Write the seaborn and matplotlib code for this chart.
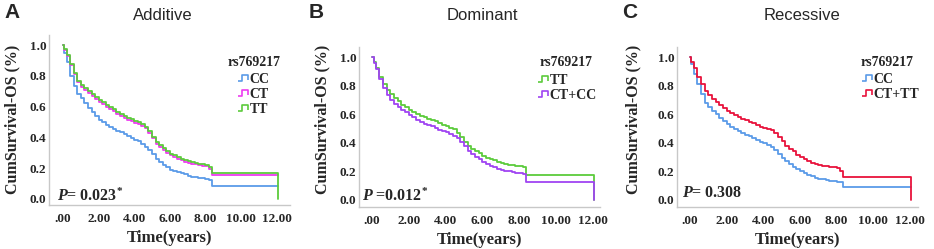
import numpy as np
import pandas as pd
import matplotlib
matplotlib.use("Agg")
import matplotlib.pyplot as plt
from matplotlib.lines import Line2D
from matplotlib.path import Path
import seaborn as sns

# ---------------- data ----------------
times = [0.0, 0.08, 0.2, 0.4, 0.6, 0.8, 1.0, 1.2, 1.4, 1.6, 1.8, 2.0, 2.2, 2.4, 2.6, 2.8,
         3.0, 3.2, 3.4, 3.6, 3.8, 4.0, 4.2, 4.4, 4.6, 4.8, 5.0, 5.2, 5.4, 5.6, 5.8,
         6.0, 6.2, 6.4, 6.6, 6.8, 7.0, 7.2, 7.4, 7.6, 7.8, 8.0, 8.2, 8.35, 12.05]

add_cc = [1.0, 0.95, 0.89, 0.80, 0.735, 0.685, 0.655, 0.625, 0.593, 0.565, 0.537, 0.512, 0.497,
          0.482, 0.467, 0.455, 0.443, 0.432, 0.42, 0.409, 0.398, 0.386, 0.374, 0.36, 0.34,
          0.315, 0.29, 0.262, 0.24, 0.222, 0.205, 0.19, 0.182, 0.174, 0.167, 0.16, 0.152,
          0.146, 0.142, 0.138, 0.134, 0.13, 0.125, 0.082, 0.082]
add_ct = [1.0, 0.97, 0.93, 0.868, 0.812, 0.757, 0.728, 0.708, 0.688, 0.67, 0.65, 0.63, 0.615,
          0.60, 0.585, 0.57, 0.553, 0.54, 0.528, 0.516, 0.506, 0.496, 0.487, 0.476, 0.458,
          0.428, 0.393, 0.358, 0.336, 0.318, 0.30, 0.283, 0.272, 0.26, 0.25, 0.242, 0.235,
          0.23, 0.225, 0.22, 0.216, 0.212, 0.197, 0.158, 0.158]
add_tt = [1.0, 0.972, 0.935, 0.875, 0.82, 0.765, 0.738, 0.72, 0.70, 0.683, 0.663, 0.642, 0.627,
          0.612, 0.597, 0.582, 0.565, 0.552, 0.54, 0.528, 0.518, 0.508, 0.499, 0.488, 0.47,
          0.44, 0.405, 0.37, 0.348, 0.33, 0.312, 0.295, 0.283, 0.27, 0.26, 0.252, 0.245,
          0.24, 0.235, 0.23, 0.226, 0.222, 0.205, 0.168, 0.0]

dom_tt = [1.0, 0.965, 0.92, 0.858, 0.81, 0.77, 0.742, 0.714, 0.69, 0.667, 0.648, 0.63, 0.616,
          0.603, 0.59, 0.578, 0.569, 0.561, 0.551, 0.539, 0.525, 0.515, 0.506, 0.495, 0.472,
          0.44, 0.408, 0.38, 0.36, 0.344, 0.328, 0.307, 0.296, 0.286, 0.277, 0.267, 0.258,
          0.253, 0.248, 0.244, 0.239, 0.235, 0.232, 0.174, 0.0]
dom_ctcc = [1.0, 0.96, 0.915, 0.845, 0.785, 0.735, 0.70, 0.672, 0.652, 0.631, 0.612, 0.594, 0.577,
            0.56, 0.544, 0.531, 0.522, 0.514, 0.503, 0.493, 0.483, 0.473, 0.462, 0.45, 0.437,
            0.408, 0.375, 0.342, 0.32, 0.303, 0.288, 0.268, 0.255, 0.24, 0.229, 0.219, 0.21,
            0.205, 0.20, 0.196, 0.192, 0.188, 0.185, 0.128, 0.0]

rec_cc = [1.0, 0.95, 0.88, 0.81, 0.74, 0.68, 0.652, 0.625, 0.598, 0.573, 0.55, 0.528, 0.51,
          0.495, 0.481, 0.468, 0.457, 0.446, 0.435, 0.422, 0.409, 0.397, 0.385, 0.37, 0.35,
          0.322, 0.295, 0.273, 0.253, 0.233, 0.216, 0.204, 0.19, 0.176, 0.166, 0.157, 0.15,
          0.146, 0.141, 0.136, 0.131, 0.127, 0.125, 0.093, 0.093]
rec_cttt = [1.0, 0.965, 0.925, 0.862, 0.81, 0.765, 0.733, 0.705, 0.683, 0.665, 0.645, 0.625, 0.605,
            0.592, 0.578, 0.566, 0.556, 0.546, 0.535, 0.524, 0.513, 0.505, 0.497, 0.487, 0.467,
            0.44, 0.41, 0.38, 0.36, 0.343, 0.317, 0.298, 0.285, 0.272, 0.262, 0.252, 0.245,
            0.24, 0.235, 0.232, 0.228, 0.222, 0.205, 0.163, 0.0]

panel_titles = ["Additive", "Dominant", "Recessive"]
panel_letters = ["A", "B", "C"]
p_texts = [r"$\mathit{P}$= 0.023$^{*}$", r"$\mathit{P}$ =0.012$^{*}$", r"$\mathit{P}$= 0.308"]
legend_title = "rs769217"
xtick_vals = [0, 2, 4, 6, 8, 10, 12]
xtick_labels = [".00", "2.00", "4.00", "6.00", "8.00", "10.00", "12.00"]
ytick_vals = [0.0, 0.2, 0.4, 0.6, 0.8, 1.0]

panels = [
    [("CC", add_cc, "#5b9be8"), ("CT", add_ct, "#ee3cf0"), ("TT", add_tt, "#5ccb3c")],
    [("TT", dom_tt, "#5ccb3c"), ("CT+CC", dom_ctcc, "#a044f2")],
    [("CC", rec_cc, "#5b9be8"), ("CT+TT", rec_cttt, "#e8123c")],
]

# ---------------- style ----------------
sns.set_theme(style="white")
plt.rcParams["font.family"] = ["Liberation Serif", "DejaVu Serif"]
plt.rcParams["mathtext.fontset"] = "custom"
plt.rcParams["mathtext.rm"] = "Liberation Serif:bold"
plt.rcParams["mathtext.it"] = "Liberation Serif:italic:bold"
plt.rcParams["mathtext.bf"] = "Liberation Serif:bold"

W, H = 934, 249
fig = plt.figure(figsize=(W / 100, H / 100), dpi=100)

# axes boxes in pixels: left, top, right, bottom ; xlim ; ylim
boxes = [
    (49, 35, 290, 205, (-0.79, 12.75), (-0.039, 1.065)),
    (359, 47, 600, 207, (-0.71, 12.4), (-0.049, 1.07)),
    (677, 47, 918, 207, (-0.71, 12.44), (-0.049, 1.07)),
]
title_x = [163, 482, 802]
letter_x = [4, 309, 622]
ylabel_x = [12, 322, 633]
leg_title_xy = [(254, 62), (566, 62), (887, 62)]
leg_items_xy = [(238, 73), (538, 74), (862, 73)]
p_xy = [(57, 201), (362, 201), (682, 197)]

step_marker = Path([(-1.0, -0.5), (-0.3, -0.5), (-0.3, 0.5), (0.6, 0.5), (0.6, -0.3)],
                   [Path.MOVETO, Path.LINETO, Path.LINETO, Path.LINETO, Path.LINETO])

for i, (l, t, r, b, xl, yl) in enumerate(boxes):
    ax = fig.add_axes([l / W, (H - b) / H, (r - l) / W, (b - t) / H])
    rows = []
    for name, vals, col in panels[i]:
        for tt, v in zip(times, vals):
            rows.append({"time": tt, "surv": v, "group": name})
    df = pd.DataFrame(rows)
    pal = {name: col for name, vals, col in panels[i]}
    sns.lineplot(data=df, x="time", y="surv", hue="group", palette=pal,
                 estimator=None, sort=False, drawstyle="steps-post",
                 linewidth=1.3, legend=False, ax=ax)
    ax.set_xlim(*xl)
    ax.set_ylim(*yl)
    ax.set_xticks(xtick_vals)
    ax.set_xticklabels(xtick_labels, fontsize=9.5, fontweight="bold")
    ax.set_yticks(ytick_vals)
    ax.set_yticklabels([f"{v:.1f}" for v in ytick_vals], fontsize=9.5, fontweight="bold")
    ax.tick_params(axis="both", length=0, pad=2)
    ax.tick_params(axis="x", pad=6)
    ax.set_xlabel("Time(years)", fontsize=12, fontweight="bold", labelpad=3)
    ax.set_ylabel("")
    for s in ["top", "right"]:
        ax.spines[s].set_visible(False)
    for s in ["left", "bottom"]:
        ax.spines[s].set_color("#c8c8c8")
        ax.spines[s].set_linewidth(1.0)

    handles = [Line2D([], [], linestyle="none", marker=step_marker, markersize=9,
                      markerfacecolor="none", markeredgecolor=col, markeredgewidth=1.2,
                      label=name) for name, vals, col in panels[i]]
    lx, ly = leg_items_xy[i]
    ax.legend(handles=handles, loc="upper left",
              bbox_to_anchor=(lx / W, 1 - ly / H), bbox_transform=fig.transFigure,
              frameon=False, prop={"weight": "bold", "size": 10}, handlelength=0.8,
              handletextpad=0.05, labelspacing=0.15, borderpad=0.0, borderaxespad=0.0)
    tx, ty = leg_title_xy[i]
    fig.text(tx / W, 1 - ty / H, legend_title, fontsize=10, fontweight="bold",
             ha="center", va="center")

    px, py = p_xy[i]
    fig.text(px / W, 1 - py / H, p_texts[i], fontsize=11.5,
             fontweight="bold", ha="left", va="baseline")

    fig.text(title_x[i] / W, 1 - 15 / H, panel_titles[i], fontsize=12,
             family="Liberation Sans", ha="center", va="center")
    fig.text(letter_x[i] / W, 1 - 12 / H, panel_letters[i], fontsize=15,
             family="Liberation Sans", fontweight="bold", ha="left", va="center")
    fig.text(ylabel_x[i] / W, 1 - 119 / H, "CumSurvival-OS (%)", fontsize=11.5,
             fontweight="bold", rotation=90, ha="center", va="center")

fig.savefig("out.png", dpi=100)
